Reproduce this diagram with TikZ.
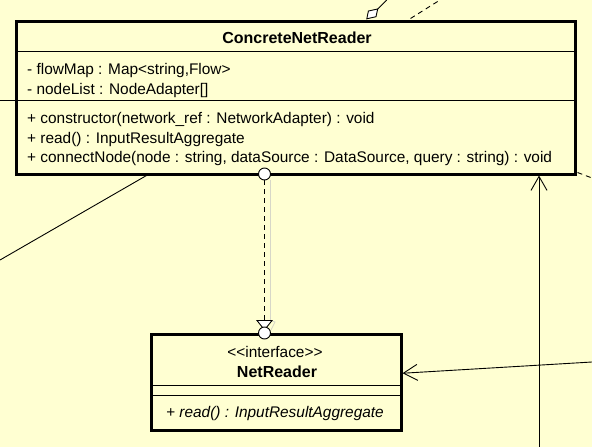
\documentclass[tikz,border=0pt]{standalone}
\usepackage{fontspec}
\setmainfont{Liberation Sans}
\usetikzlibrary{arrows.meta,calc}
\definecolor{bgyellow}{RGB}{255,255,210}
\definecolor{shadowgray}{RGB}{215,215,200}
\tikzset{
  classbox/.style={draw=black, line width=3pt, fill=bgyellow, inner sep=0pt},
  sepline/.style={draw=black, line width=0.9pt},
  member/.style={anchor=base west, inner sep=0pt, font=\fontsize{15.4}{18}\selectfont},
  titletext/.style={anchor=base, inner sep=0pt, font=\fontsize{16}{19}\selectfont\bfseries},
  stereo/.style={anchor=base, inner sep=0pt, font=\fontsize{15.4}{18}\selectfont},
  conn/.style={draw=black, line width=0.9pt},
  dashconn/.style={draw=black, line width=0.9pt, dash pattern=on 5pt off 4pt},
  openarrow/.style={-{Straight Barb[length=14pt,width=16pt,line width=0.9pt]}},
  lolly/.style={draw=black, line width=0.9pt, fill=white},
}
\begin{document}
\begin{tikzpicture}[x=1pt,y=-1pt]
\fill[bgyellow] (0,0) rectangle (592,447);
\useasboundingbox (0,0) rectangle (592,447);

% ConcreteNetReader
\node[classbox, minimum width=559pt, minimum height=152.5pt] (cnr) at (295.5,97.75) {};
\node[titletext] (cnrtitle) at (297,43.5) {ConcreteNetReader};
\draw[sepline] (16,51.5) -- (575,51.5);
\node[member] (a1) at (27,74.5) {- flowMap : Map<string,Flow>};
\node[member] (a2) at (27,94) {- nodeList : NodeAdapter[]};
\draw[sepline] (16,100) -- (575,100);
\node[member] (m1) at (27,123.5) {+ constructor(network\_ref : NetworkAdapter) : void};
\node[member] (m2) at (27,143) {+ read() : InputResultAggregate};
\node[member] (m3) at (27,162.5) {+ connectNode(node : string, dataSource : DataSource, query : string) : void};

% NetReader
\node[classbox, minimum width=250pt, minimum height=95.5pt] (nr) at (276,382.25) {};
\node[stereo] (nrst) at (275,357) {<{}<interface>{}>};
\node[titletext] (nrtitle) at (277,377.5) {NetReader};
\draw[sepline] (151,385) -- (401,385);
\draw[sepline] (151,395.5) -- (401,395.5);
\node[member, anchor=base, font=\fontsize{15.4}{18}\selectfont\itshape] (nrm) at (275,417.5) {+ read() : InputResultAggregate};

% free ends
\coordinate (leftend) at (0,100);
\coordinate (diagend) at (0,260);
\coordinate (aggend) at (386.7,0);
\coordinate (dashtopend) at (440,0);
\coordinate (dashrightend) at (592,178);
\coordinate (vertend) at (539,447);
\coordinate (rightend) at (592,362);

% left horizontal
\draw[conn] (leftend) -- (leftend -| cnr.west);
% diagonal bottom-left
\draw[conn] (diagend) -- ([xshift=132pt]cnr.south west);
% aggregation with hollow diamond
\coordinate (dtip) at (366.8,18.8);
\coordinate (dfar) at (377.7,9);
\draw[conn, fill=white, line join=miter] (dtip) -- (376,16.7) -- (dfar) -- (368.4,11) -- cycle;
\draw[conn] (dfar) -- (aggend);
% dashed top
\draw[dashconn] ([xshift=396pt,yshift=1.5pt]cnr.north west) -- (dashtopend);
% dashed right
\draw[dashconn] ([xshift=1pt,yshift=3pt]cnr.south east) -- (dashrightend);
% vertical arrow up into CNR
\draw[conn, openarrow] (vertend) -- (vertend |- cnr.south);
% arrow into NetReader
\draw[conn, openarrow] (rightend) -- ([yshift=9pt]nr.east);

% realization with lollipops
\coordinate (lolltop) at (264.5,174);
\coordinate (lollbot) at (264.5,333);
\draw[shadowgray, line width=0.8pt] (270,180) -- (270,321);
\draw[shadowgray, line width=0.8pt] (272,321) -- (275,322) -- (271,330);
\draw[dashconn] (264.5,180) -- (264.5,320.5);
\draw[conn, fill=white, line join=miter] (257,320.5) -- (272,320.5) -- (264.5,330) -- cycle;
\draw[lolly] (lolltop) circle (6pt);
\draw[lolly] (lollbot) circle (6pt);
\end{tikzpicture}
\end{document}
